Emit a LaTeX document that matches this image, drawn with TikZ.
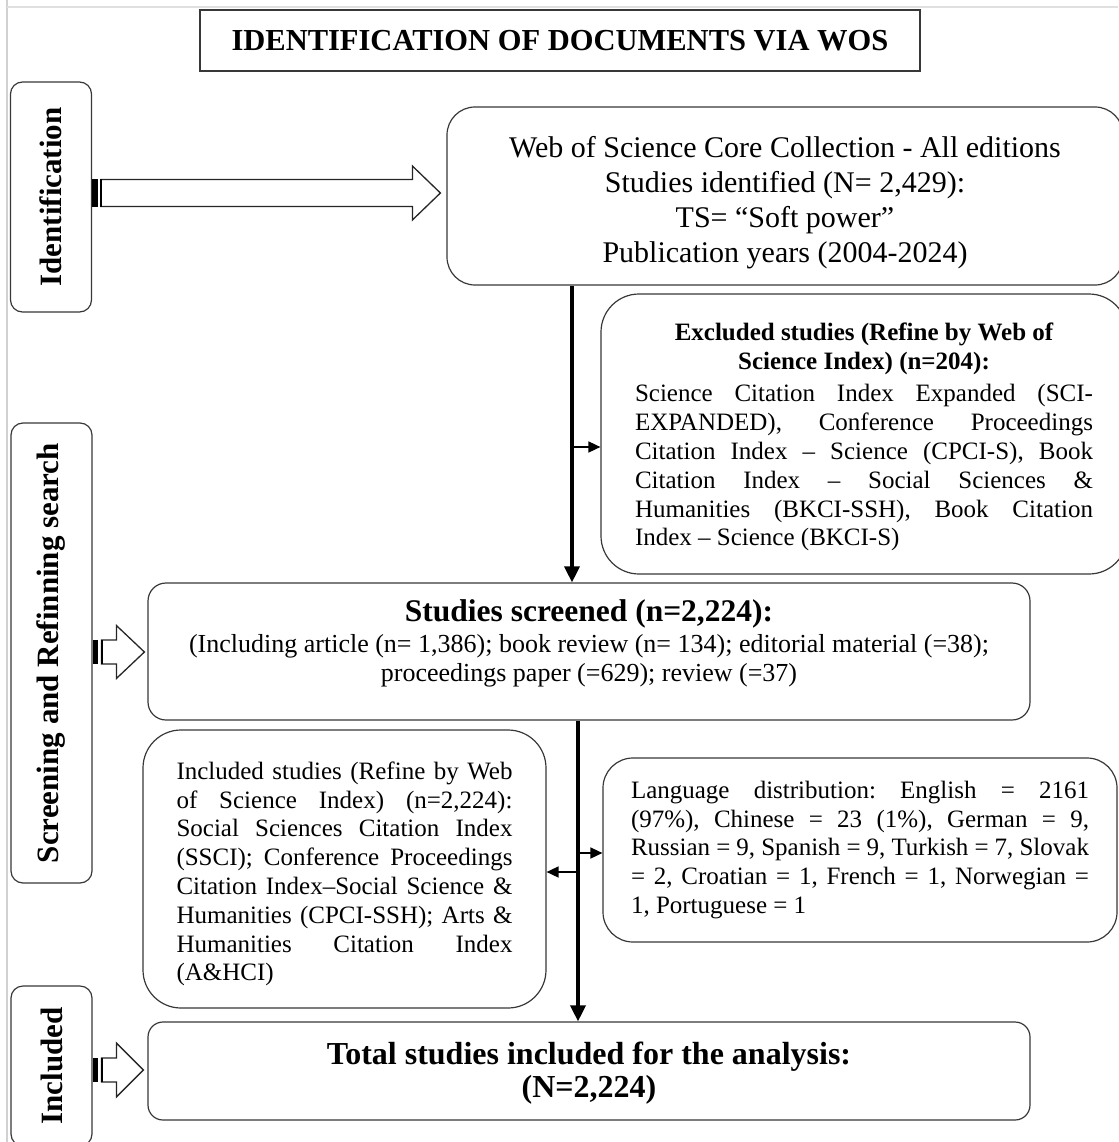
\documentclass[tikz,border=0pt]{standalone}
\usepackage{fontspec}
\setmainfont{Liberation Serif}
\usetikzlibrary{arrows.meta,calc}
\newcommand\fsz[2]{\fontsize{#1}{#2}\selectfont}
\newcommand\parset{\fontsize{25}{28.8}\selectfont\frenchspacing\tolerance=10000\relax\hbadness=10000\relax\spaceskip=0.25em plus 0.8em minus 0.12em\relax}
\setlength{\parindent}{0pt}
\newcommand\blockarrow[5]{%
  \fill let \p1=(#1) in (\x1,\y1+#3) rectangle (\x1+5.5pt,\y1-#3);
  \draw[harrow] let \p1=(#1), \p2=(#2) in
    (\x1+9pt,\y1+#3) -- (\x2-#5,\y1+#3) -- (\x2-#5,\y1+#4) -- (\x2,\y1)
    -- (\x2-#5,\y1-#4) -- (\x2-#5,\y1-#3) -- (\x1+9pt,\y1-#3) -- cycle;
  \fill let \p1=(#1) in (\x1+8pt,\y1+#3) rectangle (\x1+10pt,\y1-#3);
}
\begin{document}
\begin{tikzpicture}[x=1pt,y=-1pt,
  outl/.style={draw=black!78, line width=1.2pt},
  rbox/.style={outl, rounded corners=#1, inner sep=0pt},
  sidebox/.style={outl, rounded corners=12pt, inner sep=0pt, minimum width=81pt},
  sidetext/.style={rotate=90, inner sep=0pt, font=\fsz{31}{34}\bfseries},
  para/.style={inner sep=0pt, align=justify, font=\fsz{25}{28.8}},
  vflow/.style={line width=3.5pt, -{Triangle[width=15pt,length=16pt]}},
  bflow/.style={line width=1.6pt, -{Triangle[width=11pt,length=12pt]}},
  harrow/.style={draw=black!85, line width=1.3pt, fill=white},
]
\useasboundingbox (0,0) rectangle (1118,1142);
\draw[black!18, line width=1.5pt] (7,0) -- (7,1142);
\draw[black!12, line width=1.2pt] (7,7) -- (1118,7);

% title
\node[outl, minimum width=720pt, minimum height=61pt, inner sep=0pt,
      font=\fsz{30.5}{34}\bfseries] (title) at (560,40.5) {IDENTIFICATION OF DOCUMENTS VIA WOS};

% side boxes
\node[sidebox, minimum height=230pt] (idbox) at (51,197) {};
\node[sidetext] (idlab) at (idbox.center) {Identification};
\node[sidebox, minimum height=460pt] (scrbox) at (51.5,653) {};
\node[sidetext] (scrlab) at (scrbox.center) {Screening and Refinning search};
\node[sidebox, minimum height=160pt] (incbox) at (51.5,1066) {};
\node[sidetext] (inclab) at (incbox.center) {Included};

% Web of Science box
\node[rbox=28pt, minimum width=676pt, minimum height=178pt] (wos) at (785,196) {};
\node[inner sep=0pt, align=center, font=\fsz{30}{35}] (wos-t) at (785,202.5)
  {Web of Science Core Collection - All editions\\Studies identified (N= 2,429):\\TS= “Soft power”\\Publication years (2004-2024)};

% excluded
\node[rbox=38pt, minimum width=526pt, minimum height=280pt] (excl) at (864,434) {};
\node[text width=458pt, para] (excl-t) at (864,437)
  {\parset{\centering\bfseries Excluded studies (Refine by Web of\\Science Index) (n=204):\par}\vspace{4pt}Science Citation Index Expanded (SCI-\linebreak EXPANDED), Conference Proceedings\linebreak Citation Index – Science (CPCI-S), Book\linebreak Citation Index – Social Sciences \&\linebreak Humanities (BKCI-SSH), Book Citation\linebreak Index – Science (BKCI-S)};

% screened
\node[rbox=18pt, minimum width=882pt, minimum height=137pt] (screened) at (589,651.5) {};
\node[inner sep=0pt, align=center, font=\fsz{26}{29}] (scr-t) at (589,643)
  {{\fsz{31.5}{33}\bfseries Studies screened (n=2,224):}\\[2pt](Including article (n= 1,386); book review (n= 134); editorial material (=38);\\proceedings paper (=629); review (=37)};

% included (left)
\node[rbox=38pt, minimum width=403pt, minimum height=278pt] (incl) at (344.5,869) {};
\node[text width=336pt, para] (incl-t) at (344.5,874)
  {\parset Included studies (Refine by Web\linebreak of Science Index) (n=2,224):\linebreak Social Sciences Citation Index\linebreak (SSCI); Conference Proceedings\linebreak Citation Index–Social Science \&\linebreak Humanities (CPCI-SSH); Arts \&\linebreak Humanities Citation Index\linebreak (A\&HCI)};

% language
\node[rbox=30pt, minimum width=514pt, minimum height=184pt] (lang) at (860,850) {};
\node[text width=458pt, para] (lang-t) at (860,850)
  {\parset Language distribution: English = 2161\linebreak (97\%), Chinese = 23 (1\%), German = 9,\linebreak Russian = 9, Spanish = 9, Turkish = 7, Slovak\linebreak = 2, Croatian = 1, French = 1, Norwegian =\linebreak 1, Portuguese = 1};

% total
\node[rbox=15pt, minimum width=882pt, minimum height=98pt] (total) at (589,1071) {};
\node[inner sep=0pt, align=center, font=\fsz{32}{33}\bfseries] (total-t) at (589,1073)
  {Total studies included for the analysis:\\(N=2,224)};

% flow arrows
\coordinate (v1) at (572,0);
\coordinate (v2) at (578,0);
\draw[vflow] (wos.south -| v1) -- (screened.north -| v1);
\coordinate (b1) at ($(excl.west)+(0,13)$);
\draw[bflow] (b1 -| v1) -- (b1);
\draw[vflow] (screened.south -| v2) -- (total.north -| v2);
\coordinate (b2) at ($(lang.west)+(0,3)$);
\draw[bflow] (b2 -| v2) -- (b2);
\coordinate (b3) at ($(incl.east)+(0,3)$);
\draw[bflow] (b3 -| v2) -- (b3);

% block arrows
\coordinate (h1s) at ($(idbox.east)+(0,-4)$);
\coordinate (h1e) at ($(wos.west)+(-6,0)$);
\blockarrow{h1s}{h1e}{13.5pt}{27pt}{28pt}
\coordinate (h2s) at ($(scrbox.east)+(0,-1)$);
\coordinate (h2e) at ($(screened.west)+(-3,0)$);
\blockarrow{h2s}{h2e}{12pt}{26.5pt}{28pt}
\coordinate (h3s) at ($(incbox.east)+(0,4)$);
\coordinate (h3e) at ($(total.west)+(-4,0)$);
\blockarrow{h3s}{h3e}{12pt}{27pt}{27pt}
\end{tikzpicture}
\end{document}
